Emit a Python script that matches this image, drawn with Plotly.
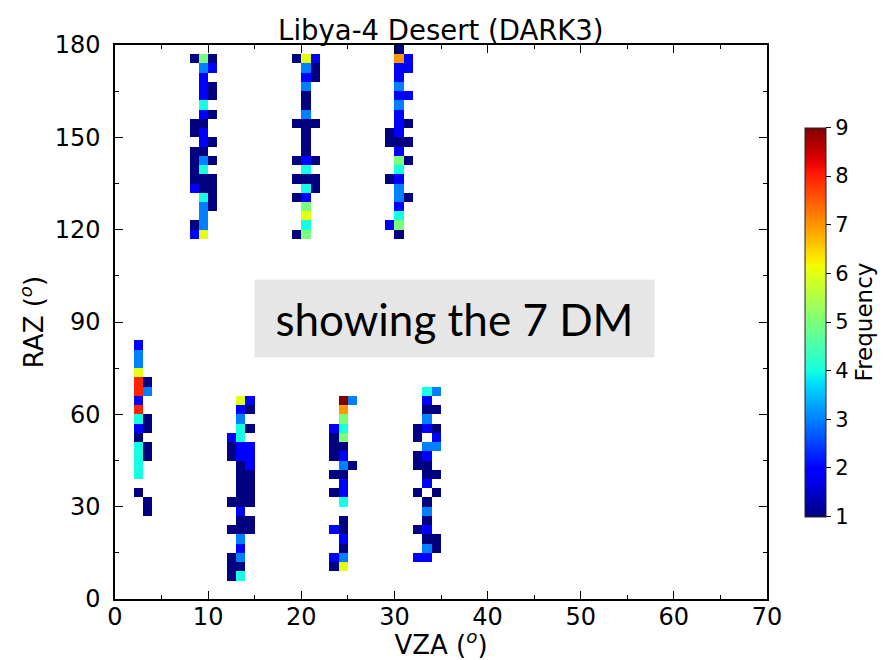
import numpy as np
import plotly.graph_objects as go

# Each cell: (VZA bin lower edge [deg], RAZ bin lower edge [deg], frequency)
# bins are 1 deg in VZA and 3 deg in RAZ
dm_upper_10 = [
    (8, 174, 1), (9, 174, 5), (10, 174, 1),
    (9, 171, 3), (10, 171, 2),
    (9, 168, 2),
    (9, 165, 2), (10, 165, 1),
    (9, 162, 2), (10, 162, 1),
    (9, 159, 4),
    (9, 156, 2), (10, 156, 1),
    (8, 153, 1), (9, 153, 1),
    (8, 150, 1), (9, 150, 2),
    (9, 147, 2), (10, 147, 1),
    (8, 144, 1), (9, 144, 1),
    (8, 141, 1), (9, 141, 3), (10, 141, 1),
    (8, 138, 1), (9, 138, 4),
    (8, 135, 1), (9, 135, 1), (10, 135, 1),
    (8, 132, 2), (9, 132, 1), (10, 132, 1),
    (9, 129, 4), (10, 129, 1),
    (9, 126, 3), (10, 126, 1),
    (9, 123, 3),
    (8, 120, 1), (9, 120, 3),
    (8, 117, 2), (9, 117, 6),
]
dm_upper_20 = [
    (19, 174, 1), (20, 174, 6), (21, 174, 2),
    (20, 171, 3), (21, 171, 1),
    (20, 168, 2), (21, 168, 1),
    (20, 165, 3),
    (20, 162, 1),
    (20, 159, 1),
    (20, 156, 3),
    (19, 153, 1), (20, 153, 1), (21, 153, 1),
    (20, 150, 1),
    (20, 147, 1),
    (20, 144, 1),
    (19, 141, 1), (20, 141, 2), (21, 141, 1),
    (20, 138, 4),
    (19, 135, 1), (20, 135, 1), (21, 135, 1),
    (20, 132, 4), (21, 132, 1),
    (19, 129, 1), (20, 129, 2),
    (20, 126, 5),
    (20, 123, 6),
    (20, 120, 4),
    (19, 117, 1), (20, 117, 5),
]
dm_upper_30 = [
    (30, 177, 1),
    (30, 174, 7), (31, 174, 2),
    (30, 171, 2), (31, 171, 2),
    (30, 168, 2),
    (30, 165, 3),
    (30, 162, 2), (31, 162, 2),
    (30, 159, 3),
    (30, 156, 2),
    (30, 153, 2), (31, 153, 1),
    (29, 150, 1), (30, 150, 2),
    (29, 147, 1), (30, 147, 1), (31, 147, 1),
    (30, 144, 2),
    (30, 141, 5), (31, 141, 1),
    (30, 138, 4),
    (29, 135, 1), (30, 135, 2),
    (30, 132, 3),
    (30, 129, 3), (31, 129, 1),
    (30, 126, 2),
    (30, 123, 4),
    (29, 120, 2), (30, 120, 5),
    (30, 117, 1),
]
dm_lower_3 = [
    (2, 81, 2), (2, 78, 3), (2, 75, 3), (2, 72, 6),
    (2, 69, 8), (3, 69, 1),
    (2, 66, 8), (3, 66, 3),
    (2, 63, 2),
    (2, 60, 8),
    (2, 57, 4), (3, 57, 1),
    (2, 54, 2), (3, 54, 1),
    (2, 51, 1),
    (2, 48, 4), (3, 48, 1),
    (2, 45, 4), (3, 45, 1),
    (2, 42, 4), (2, 39, 4),
    (2, 33, 1), (3, 30, 1), (3, 27, 1),
]
dm_lower_13 = [
    (13, 63, 6), (14, 63, 2),
    (13, 60, 2), (14, 60, 1),
    (13, 57, 3),
    (13, 54, 4), (14, 54, 1),
    (12, 51, 2), (13, 51, 4),
    (12, 48, 1), (13, 48, 2), (14, 48, 2),
    (12, 45, 1), (13, 45, 2), (14, 45, 2),
    (13, 42, 1), (14, 42, 2),
    (13, 39, 1), (14, 39, 1),
    (13, 36, 1), (14, 36, 1),
    (13, 33, 1), (14, 33, 1),
    (12, 30, 1), (13, 30, 1), (14, 30, 1),
    (13, 27, 2),
    (13, 24, 1), (14, 24, 1),
    (12, 21, 1), (13, 21, 1), (14, 21, 1),
    (13, 18, 3),
    (13, 15, 2),
    (12, 12, 1), (13, 12, 3),
    (12, 9, 1), (13, 9, 1),
    (12, 6, 1), (13, 6, 4),
]
dm_lower_24 = [
    (24, 63, 9), (25, 63, 3),
    (24, 60, 7),
    (24, 57, 5),
    (23, 54, 2), (24, 54, 4),
    (23, 51, 1), (24, 51, 5),
    (23, 48, 1), (24, 48, 1),
    (23, 45, 1), (24, 45, 2),
    (24, 42, 3), (25, 42, 1),
    (23, 39, 1), (24, 39, 1),
    (24, 36, 2),
    (23, 33, 1), (24, 33, 2),
    (24, 30, 4),
    (24, 24, 1),
    (23, 21, 2), (24, 21, 1),
    (24, 18, 2),
    (24, 15, 1),
    (23, 12, 2), (24, 12, 3),
    (23, 9, 1), (24, 9, 6),
]
dm_lower_33 = [
    (33, 66, 4), (34, 66, 3),
    (33, 63, 2),
    (33, 60, 1), (34, 60, 1),
    (33, 57, 3),
    (32, 54, 1), (33, 54, 2), (34, 54, 1),
    (32, 51, 1), (34, 51, 2),
    (33, 48, 3), (34, 48, 3),
    (32, 45, 1), (33, 45, 2),
    (32, 42, 1), (33, 42, 1),
    (33, 39, 1), (34, 39, 1),
    (33, 36, 2),
    (32, 33, 1), (34, 33, 1),
    (33, 30, 1),
    (33, 27, 3),
    (33, 24, 1),
    (32, 21, 1), (33, 21, 2),
    (33, 18, 1), (34, 18, 1),
    (33, 15, 3), (34, 15, 1),
    (32, 12, 2), (33, 12, 2),
]

vza_bin = 1.0
raz_bin = 3.0
vza_edges = np.arange(0, 70 + vza_bin, vza_bin)
raz_edges = np.arange(0, 180 + raz_bin, raz_bin)

z = np.full((len(raz_edges) - 1, len(vza_edges) - 1), np.nan)
for group in [dm_upper_10, dm_upper_20, dm_upper_30,
              dm_lower_3, dm_lower_13, dm_lower_24, dm_lower_33]:
    for vza, raz, f in group:
        z[int(raz // raz_bin), int(vza // vza_bin)] = f

xc = (vza_edges[:-1] + vza_edges[1:]) / 2
yc = (raz_edges[:-1] + raz_edges[1:]) / 2

# matplotlib 'jet' colormap
_jet = {
    'r': [(0, 0), (0.35, 0), (0.66, 1), (0.89, 1), (1, 0.5)],
    'g': [(0, 0), (0.125, 0), (0.375, 1), (0.64, 1), (0.91, 0), (1, 0)],
    'b': [(0, 0.5), (0.11, 1), (0.34, 1), (0.65, 0), (1, 0)],
}
def _ch(key, t):
    pts = _jet[key]
    return float(np.interp(t, [p[0] for p in pts], [p[1] for p in pts]))
jet = []
for t in np.linspace(0, 1, 65):
    r, g, b = (int(round(255 * _ch(k, t))) for k in 'rgb')
    jet.append([float(t), f'rgb({r},{g},{b})'])

FONT = 'DejaVu Sans'

fig = go.Figure(go.Heatmap(
    x=xc, y=yc, z=z, zmin=1, zmax=9, colorscale=jet,
    hoverongaps=False,
    colorbar=dict(
        thickness=21, thicknessmode='pixels',
        len=389, lenmode='pixels',
        x=1.0588, xanchor='left', xpad=0,
        y=0.5, yanchor='middle', ypad=0,
        outlinewidth=1, outlinecolor='#222',
        ticks='outside', ticklen=5, tickwidth=1.2, tickcolor='black',
        tickvals=list(range(1, 10)),
        tickfont=dict(family=FONT, size=21, color='black'),
        title=dict(text='Frequency', side='right',
                   font=dict(family=FONT, size=23, color='black')),
    ),
))

axis_common = dict(
    showline=True, linecolor='black', linewidth=1.5, mirror='ticks',
    ticks='inside', ticklen=8, tickwidth=1.3, tickcolor='black',
    showgrid=False, zeroline=False,
    tickfont=dict(family=FONT, size=24, color='black'),
)

fig.update_xaxes(
    range=[0, 70], dtick=10, tick0=0,
    minor=dict(dtick=5, ticks='inside', ticklen=4, tickwidth=1.3, tickcolor='black', showgrid=False),
    ticklabelstandoff=-5,
    title=dict(text='VZA (<sup><i>o</i></sup>)', font=dict(family=FONT, size=26, color='black'), standoff=6),
    **axis_common,
)
fig.update_yaxes(
    range=[0, 180], dtick=30, tick0=0,
    minor=dict(dtick=15, ticks='inside', ticklen=4, tickwidth=1.3, tickcolor='black', showgrid=False),
    ticklabelstandoff=8,
    title=dict(text='RAZ (<sup><i>o</i></sup>)', font=dict(family=FONT, size=26, color='black'), standoff=4),
    **axis_common,
)

fig.update_layout(
    width=884, height=660,
    margin=dict(l=115, r=117, t=45, b=61, autoexpand=False),
    paper_bgcolor='white', plot_bgcolor='white',
    title=dict(text='Libya-4 Desert (DARK3)', x=(115 + 651.7 / 2) / 884, xanchor='center',
               yref='paper', y=1, yanchor='bottom', pad=dict(b=5),
               font=dict(family=FONT, size=27.5, color='black')),
    annotations=[dict(
        text='showing the 7 DM', xref='paper', yref='paper',
        x=0.521, y=0.5063, xanchor='center', yanchor='middle',
        width=399, height=77, borderpad=0, bgcolor='#e6e6e6',
        showarrow=False, align='center', valign='middle',
        font=dict(family='Lato', size=44, color='black'),
    )],
)

fig.write_html('out.html')
